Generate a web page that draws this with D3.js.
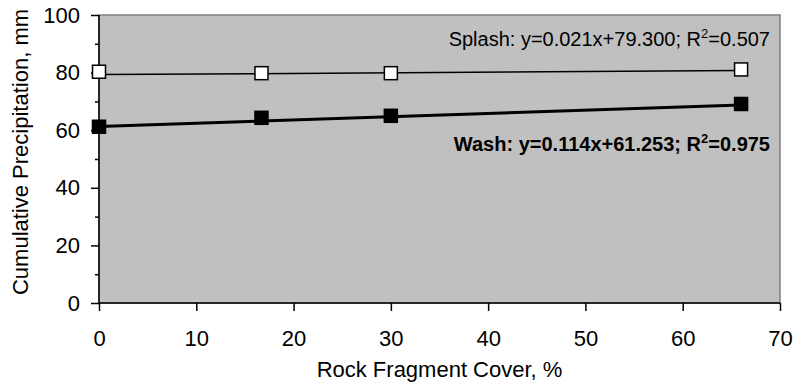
<!DOCTYPE html>
<html>
<head>
<meta charset="utf-8">
<script src="https://cdn.jsdelivr.net/npm/d3@7"></script>
<style>
  body { margin: 0; background: #fff; }
  text { font-family: "Liberation Sans", Arial, sans-serif; fill: #000; }
</style>
</head>
<body>
<svg id="chart" width="795" height="384"></svg>
<script>
// rock fragment cover, %
const cover = [0, 16.7, 30, 66]
// cumulative precipitation, mm
const splash = [80.3, 79.8, 79.8, 81.1]
const wash = [61.2, 64.3, 65.0, 69.1]
// fitted trend lines [slope, intercept]
const splashFit = [0.021, 79.300]
const washFit = [0.114, 61.253]
const splashR2 = '0.507'
const washR2 = '0.975'
const xTicks = [0, 10, 20, 30, 40, 50, 60, 70]
const yTicks = [0, 20, 40, 60, 80, 100]

const svg = d3.select('#chart')
const pl = 99, pr = 780, pt = 15, pb = 303

const x = d3.scaleLinear().domain([0, 70]).range([pl, pr])
const y = d3.scaleLinear().domain([0, 100]).range([pb, pt])

svg.append('rect')
  .attr('x', pl).attr('y', pt)
  .attr('width', pr - pl).attr('height', pb - pt)
  .attr('fill', '#c0c0c0')
  .attr('stroke', '#808080')
  .attr('stroke-width', 1.5)

// y axis
const yAxis = svg.append('g')
  .attr('transform', 'translate(' + pl + ',0)')
  .call(d3.axisLeft(y).tickValues(yTicks).tickSize(8).tickPadding(11))
yAxis.selectAll('text').style('font-size', '22px')
yAxis.selectAll('line, path').attr('stroke', '#000').attr('stroke-width', 1.5)
yAxis.select('.domain').attr('d', 'M0,' + pt + 'V' + pb)
svg.append('g')
  .attr('transform', 'translate(' + pl + ',0)')
  .call(d3.axisLeft(y).tickValues(d3.range(10, 100, 20)).tickSize(4).tickFormat(''))
  .call(g => g.select('.domain').remove())
  .selectAll('line').attr('stroke', '#000').attr('stroke-width', 1.5)

// x axis
const xAxis = svg.append('g')
  .attr('transform', 'translate(0,' + pb + ')')
  .call(d3.axisBottom(x).tickValues(xTicks).tickSize(8).tickPadding(19))
xAxis.selectAll('text').style('font-size', '22px')
xAxis.selectAll('line, path').attr('stroke', '#000').attr('stroke-width', 1.5)
xAxis.select('.domain').attr('d', 'M' + pl + ',0H' + pr)

// trend lines
const fitLine = (fit, w) => {
  const xs = [0, d3.max(cover)]
  svg.append('path')
    .datum(xs)
    .attr('d', d3.line().x(d => x(d)).y(d => y(fit[0] * d + fit[1])))
    .attr('fill', 'none')
    .attr('stroke', '#000')
    .attr('stroke-width', w)
}
fitLine(splashFit, 1.5)
fitLine(washFit, 3)

// markers
const ms = 13
svg.append('g').selectAll('rect')
  .data(cover.map((c, i) => [c, splash[i]]))
  .join('rect')
  .attr('x', d => x(d[0]) - ms / 2).attr('y', d => y(d[1]) - ms / 2)
  .attr('width', ms).attr('height', ms)
  .attr('fill', '#fff').attr('stroke', '#000').attr('stroke-width', 1.5)
svg.append('g').selectAll('rect')
  .data(cover.map((c, i) => [c, wash[i]]))
  .join('rect')
  .attr('x', d => x(d[0]) - ms / 2).attr('y', d => y(d[1]) - ms / 2)
  .attr('width', ms).attr('height', ms)
  .attr('fill', '#000').attr('stroke', '#000').attr('stroke-width', 1.5)

// equation labels
const eqLabel = (name, fit, r2, ty, bold) => {
  const t = svg.append('text')
    .attr('x', 770).attr('y', ty)
    .attr('text-anchor', 'end')
    .style('font-size', '20px')
    .style('font-weight', bold ? 'bold' : 'normal')
  t.append('tspan').text(name + ': y=' + fit[0].toFixed(3) + 'x+' + fit[1].toFixed(3) + '; R')
  t.append('tspan').attr('dy', -8).style('font-size', '13px').text('2')
  t.append('tspan').attr('dy', 8).text('=' + r2)
}
eqLabel('Splash', splashFit, splashR2, 46, false)
eqLabel('Wash', washFit, washR2, 151, true)

// axis titles
svg.append('text')
  .attr('x', (pl + pr) / 2).attr('y', 377)
  .attr('text-anchor', 'middle')
  .style('font-size', '22px')
  .text('Rock Fragment Cover, %')
svg.append('text')
  .attr('transform', 'translate(28,152) rotate(-90)')
  .attr('text-anchor', 'middle')
  .style('font-size', '22px')
  .text('Cumulative Precipitation, mm')
</script>
</body>
</html>
